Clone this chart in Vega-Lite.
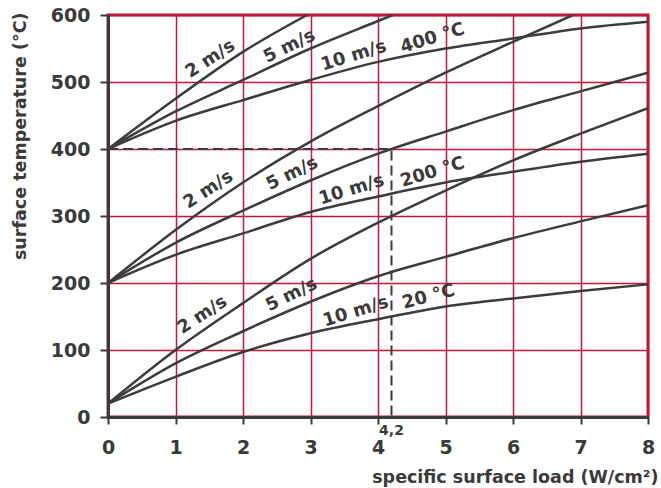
{
  "$schema": "https://vega.github.io/schema/vega-lite/v6.json",
  "width": 540,
  "height": 402,
  "autosize": "none",
  "padding": {"left": 108, "top": 15, "right": 13, "bottom": 71},
  "background": "white",
  "config": {
    "view": {"stroke": "#b8173b", "strokeWidth": 3},
    "font": "DejaVu Sans"
  },
  "datasets": {
    "curves": [
      {"series": "400-2", "load": 0, "temp": 400}, {"series": "400-2", "load": 1, "temp": 475}, {"series": "400-2", "load": 2, "temp": 545}, {"series": "400-2", "load": 2.95, "temp": 600},
      {"series": "400-5", "load": 0, "temp": 400}, {"series": "400-5", "load": 1, "temp": 456}, {"series": "400-5", "load": 2, "temp": 503}, {"series": "400-5", "load": 3, "temp": 550}, {"series": "400-5", "load": 4, "temp": 591}, {"series": "400-5", "load": 4.22, "temp": 600},
      {"series": "400-10", "load": 0, "temp": 400}, {"series": "400-10", "load": 1, "temp": 442}, {"series": "400-10", "load": 2, "temp": 473}, {"series": "400-10", "load": 3, "temp": 503}, {"series": "400-10", "load": 4, "temp": 530}, {"series": "400-10", "load": 5, "temp": 550}, {"series": "400-10", "load": 6, "temp": 565}, {"series": "400-10", "load": 7, "temp": 580}, {"series": "400-10", "load": 8, "temp": 590},
      {"series": "200-2", "load": 0, "temp": 200}, {"series": "200-2", "load": 1, "temp": 279}, {"series": "200-2", "load": 2, "temp": 350}, {"series": "200-2", "load": 3, "temp": 411}, {"series": "200-2", "load": 4, "temp": 464}, {"series": "200-2", "load": 5, "temp": 514}, {"series": "200-2", "load": 6, "temp": 560}, {"series": "200-2", "load": 6.89, "temp": 600},
      {"series": "200-5", "load": 0, "temp": 200}, {"series": "200-5", "load": 1, "temp": 260}, {"series": "200-5", "load": 2, "temp": 308}, {"series": "200-5", "load": 3, "temp": 353}, {"series": "200-5", "load": 4, "temp": 393}, {"series": "200-5", "load": 5, "temp": 426}, {"series": "200-5", "load": 6, "temp": 458}, {"series": "200-5", "load": 7, "temp": 486}, {"series": "200-5", "load": 8, "temp": 514},
      {"series": "200-10", "load": 0, "temp": 200}, {"series": "200-10", "load": 1, "temp": 242}, {"series": "200-10", "load": 2, "temp": 274}, {"series": "200-10", "load": 3, "temp": 306}, {"series": "200-10", "load": 4, "temp": 329}, {"series": "200-10", "load": 5, "temp": 350}, {"series": "200-10", "load": 6, "temp": 366}, {"series": "200-10", "load": 7, "temp": 381}, {"series": "200-10", "load": 8, "temp": 393},
      {"series": "20-2", "load": 0, "temp": 20}, {"series": "20-2", "load": 1, "temp": 100}, {"series": "20-2", "load": 2, "temp": 170}, {"series": "20-2", "load": 3, "temp": 236}, {"series": "20-2", "load": 4, "temp": 290}, {"series": "20-2", "load": 5, "temp": 338}, {"series": "20-2", "load": 6, "temp": 383}, {"series": "20-2", "load": 7, "temp": 423}, {"series": "20-2", "load": 8, "temp": 461},
      {"series": "20-5", "load": 0, "temp": 20}, {"series": "20-5", "load": 1, "temp": 80}, {"series": "20-5", "load": 2, "temp": 128}, {"series": "20-5", "load": 3, "temp": 172}, {"series": "20-5", "load": 4, "temp": 210}, {"series": "20-5", "load": 5, "temp": 239}, {"series": "20-5", "load": 6, "temp": 267}, {"series": "20-5", "load": 7, "temp": 292}, {"series": "20-5", "load": 8, "temp": 316},
      {"series": "20-10", "load": 0, "temp": 20}, {"series": "20-10", "load": 1, "temp": 60}, {"series": "20-10", "load": 2, "temp": 97}, {"series": "20-10", "load": 3, "temp": 125}, {"series": "20-10", "load": 4, "temp": 146}, {"series": "20-10", "load": 5, "temp": 165}, {"series": "20-10", "load": 6, "temp": 177}, {"series": "20-10", "load": 7, "temp": 188}, {"series": "20-10", "load": 8, "temp": 198}
    ],
    "dashed": [
      {"load": 0, "temp": 400, "order": 1},
      {"load": 4.2, "temp": 400, "order": 2},
      {"load": 4.2, "temp": 0, "order": 3}
    ],
    "labels": [
      {"load": 1.40, "temp": 152, "text": "2 m/s"},
      {"load": 2.72, "temp": 182, "text": "5 m/s"},
      {"load": 3.67, "temp": 157, "text": "10 m/s"},
      {"load": 4.75, "temp": 179, "text": "20 °C"},
      {"load": 1.49, "temp": 339, "text": "2 m/s"},
      {"load": 2.73, "temp": 363, "text": "5 m/s"},
      {"load": 3.61, "temp": 339, "text": "10 m/s"},
      {"load": 4.81, "temp": 365, "text": "200 °C"},
      {"load": 1.52, "temp": 534, "text": "2 m/s"},
      {"load": 2.69, "temp": 553, "text": "5 m/s"},
      {"load": 3.64, "temp": 539, "text": "10 m/s"},
      {"load": 4.81, "temp": 565, "text": "400 °C"}
    ],
    "marker": [
      {"load": 4.2, "temp": 0, "text": "4,2"}
    ]
  },
  "encoding": {
    "x": {
      "field": "load", "type": "quantitative",
      "scale": {"domain": [0, 8], "nice": false, "zero": false},
      "axis": {
        "values": [0, 1, 2, 3, 4, 5, 6, 7, 8],
        "format": "d",
        "grid": true, "gridColor": "#c2173f", "gridWidth": 1.5, "gridOpacity": 1,
        "domainColor": "#3a3a3a", "domainWidth": 3,
        "tickColor": "#3a3a3a", "tickWidth": 2, "tickSize": 7,
        "labelFont": "DejaVu Sans", "labelFontWeight": "bold", "labelFontSize": 19, "labelColor": "#3a3a3a", "labelPadding": 14,
        "labelFlush": false, "labelOverlap": false,
        "title": "specific surface load (W/cm²)",
        "titleFont": "DejaVu Sans", "titleFontWeight": "bold", "titleFontSize": 17.5, "titleColor": "#3a3a3a",
        "titleAnchor": "end", "titleAlign": "right", "titleX": 550, "titleY": 65, "titleBaseline": "alphabetic"
      }
    },
    "y": {
      "field": "temp", "type": "quantitative",
      "scale": {"domain": [0, 600], "nice": false},
      "axis": {
        "values": [0, 100, 200, 300, 400, 500, 600],
        "grid": true, "gridColor": "#c2173f", "gridWidth": 1.5, "gridOpacity": 1,
        "domainColor": "#3a3a3a", "domainWidth": 3,
        "tickColor": "#3a3a3a", "tickWidth": 2, "tickSize": 8,
        "labelFont": "DejaVu Sans", "labelFontWeight": "bold", "labelFontSize": 19, "labelColor": "#3a3a3a", "labelPadding": 10,
        "labelFlush": false, "labelOverlap": false,
        "title": "surface temperature (°C)",
        "titleFont": "DejaVu Sans", "titleFontWeight": "bold", "titleFontSize": 17.5, "titleColor": "#3a3a3a",
        "titleAngle": 270, "titleAlign": "right", "titleBaseline": "middle", "titleX": -88, "titleY": -3
      }
    }
  },
  "layer": [
    {
      "data": {"name": "curves"},
      "mark": {"type": "line", "interpolate": "monotone", "color": "#3c3c3c", "strokeWidth": 2.5, "clip": true},
      "encoding": {"detail": {"field": "series", "type": "nominal"}}
    },
    {
      "data": {"name": "dashed"},
      "mark": {"type": "line", "color": "#3c3c3c", "strokeWidth": 2, "strokeDash": [10, 5]},
      "encoding": {"order": {"field": "order", "type": "quantitative"}}
    },
    {
      "data": {"name": "labels"},
      "mark": {"type": "text", "font": "DejaVu Sans", "fontWeight": "bold", "fontSize": 18, "color": "#3a3a3a", "align": "center", "baseline": "middle"},
      "encoding": {
        "text": {"field": "text"},
        "angle": {
          "field": "text", "type": "nominal",
          "scale": {"type": "ordinal", "domain": ["2 m/s", "5 m/s", "10 m/s", "20 °C", "200 °C", "400 °C"], "range": [327, 334, 343, 345, 343, 343]},
          "legend": null
        }
      }
    },
    {
      "data": {"name": "marker"},
      "mark": {"type": "text", "font": "DejaVu Sans", "fontWeight": "bold", "fontSize": 14, "color": "#3a3a3a", "align": "center", "baseline": "middle", "dy": 14},
      "encoding": {"text": {"field": "text"}}
    }
  ]
}
